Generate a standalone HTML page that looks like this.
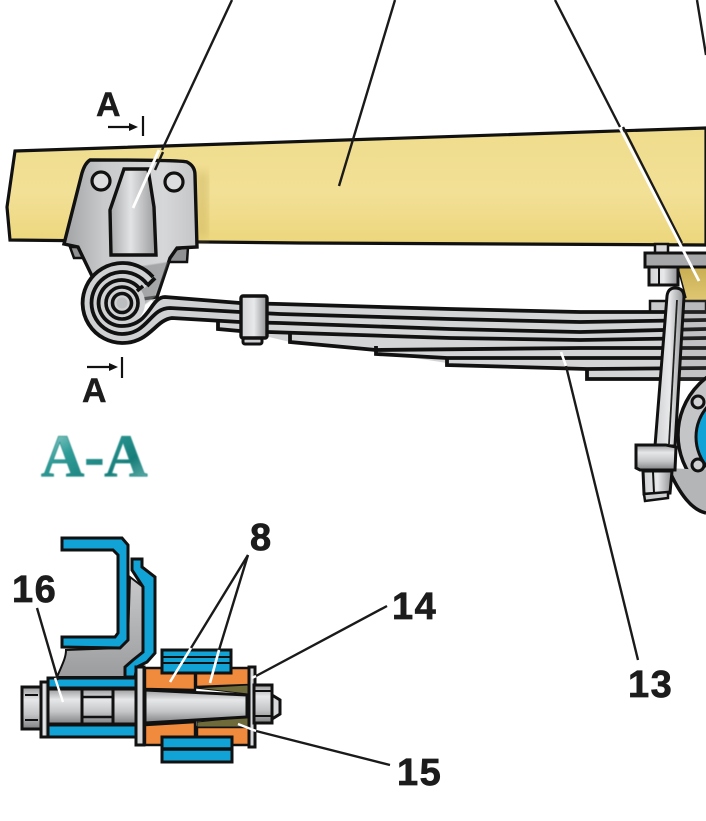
<!DOCTYPE html>
<html><head><meta charset="utf-8"><style>
html,body{margin:0;padding:0;background:#fff;width:706px;height:821px;overflow:hidden}
svg{display:block}
text{font-family:"Liberation Sans",sans-serif;font-weight:bold;fill:#1c1c1c}
.n{font-size:38px;letter-spacing:1.5px;stroke:#1c1c1c;stroke-width:.7px}
.a{font-size:34px;stroke:#1c1c1c;stroke-width:.4px}
</style></head><body>
<svg width="706" height="821" viewBox="0 0 706 821" xmlns="http://www.w3.org/2000/svg">
<defs>
<linearGradient id="y" x1="0" y1="0" x2="0" y2="1"><stop offset="0" stop-color="#efdc8c"/><stop offset=".55" stop-color="#f2e096"/><stop offset="1" stop-color="#ecd67c"/></linearGradient>
<linearGradient id="m" x1="0" y1="0" x2="1" y2="0"><stop offset="0" stop-color="#a8a9ab"/><stop offset=".45" stop-color="#e2e3e4"/><stop offset="1" stop-color="#9a9b9d"/></linearGradient>
<linearGradient id="w" x1="0" y1="0" x2="0" y2="1"><stop offset="0" stop-color="#c8c9cb"/><stop offset=".7" stop-color="#a9aaac"/><stop offset="1" stop-color="#9b9c9e"/></linearGradient>
<linearGradient id="b" x1="0" y1="0" x2="1" y2="0"><stop offset="0" stop-color="#a2a3a5"/><stop offset=".3" stop-color="#c9cacc"/><stop offset=".75" stop-color="#d6d7d9"/><stop offset="1" stop-color="#c4c5c7"/></linearGradient>
<linearGradient id="s" x1="0" y1="0" x2="0" y2="1"><stop offset="0" stop-color="#9a9b9d"/><stop offset=".3" stop-color="#e6e7e8"/><stop offset=".65" stop-color="#c4c5c7"/><stop offset="1" stop-color="#808183"/></linearGradient>
<linearGradient id="c" x1="0" y1="0" x2="1" y2="0"><stop offset="0" stop-color="#cfd0d2"/><stop offset=".5" stop-color="#e8e9ea"/><stop offset="1" stop-color="#8e8f91"/></linearGradient>
<linearGradient id="t" x1="0" y1="0" x2="1" y2="1"><stop offset="0" stop-color="#bfe3df"/><stop offset=".35" stop-color="#2f9c98"/><stop offset=".7" stop-color="#187d79"/><stop offset="1" stop-color="#7cc0bb"/></linearGradient>
<linearGradient id="g" x1="0" y1="0" x2="0" y2="1"><stop offset="0" stop-color="#c9ae52"/><stop offset="1" stop-color="#e0c875"/></linearGradient>
<filter id="blur"><feGaussianBlur stdDeviation="5"/></filter>
<filter id="soft"><feGaussianBlur stdDeviation=".5"/></filter>
</defs>
<rect width="706" height="821" fill="#fff"/>

<!-- frame -->
<path d="M15 151 L706 128 V245 L300 243 L10 240 L7 207Z" fill="url(#y)" stroke="#111" stroke-width="3.2"/>
<path d="M196 172 L208 172 V238 H196Z" fill="#cdb560" opacity=".6" filter="url(#blur)"/>

<!-- right-hand assembly behind -->
<rect x="655" y="244" width="13" height="10" fill="#d8d8da" stroke="#111" stroke-width="2.5"/>
<path d="M678 268 H706 V302 H686Z" fill="url(#g)"/>
<path d="M678 268 L686 298" stroke="#111" stroke-width="1.5" fill="none"/>
<rect x="645" y="253" width="70" height="14" fill="#a6a7a9" stroke="#111" stroke-width="3"/>
<rect x="649" y="267" width="29" height="18" fill="url(#c)" stroke="#111" stroke-width="3"/>
<path d="M659 268V285" stroke="#111" stroke-width="2"/>

<!-- leaves -->
<path d="M150 298 L240 303 L280 304 L580 312 L706 312 V378 H587 V369 L447 363 L376 352 L290 342 L240 330 L218 328 V321 L167 318Z" fill="#d3d4d6"/>
<rect x="650" y="301" width="56" height="11" fill="#c9cacc" stroke="#111" stroke-width="2.5"/>
<g fill="none" stroke="#111" stroke-width="3.8">
<path d="M240 303 L280 304 L450 309 L580 312 L706 312"/>
<path d="M240 312 L280 314 L450 319 L580 322 L706 320"/>
<path d="M240 322 L280 323 L450 329 L580 332 L706 329"/>
<path d="M268 332 L450 338 L580 340 L706 338"/>
<path d="M290 333 V342 L376 350 L580 348 L706 348"/>
<path d="M376 346 V354 L447 358 L580 358 L706 358"/>
<path d="M447 358 V365 L587 369 L706 368"/>
<path d="M587 368 V379 H706"/>
<path d="M218 321 V329 L240 331"/>
</g>
<rect x="680" y="300" width="26" height="80" fill="#777" opacity=".18"/>

<!-- hub -->
<circle cx="750" cy="435" r="72" fill="#c4c5c7" stroke="#111" stroke-width="3.5"/>
<path d="M668 468 C680 495 692 510 706 513 V470Z" fill="#b4b5b7"/>
<path d="M668 468 C680 495 692 510 706 513" fill="none" stroke="#111" stroke-width="3.5"/>
<circle cx="742" cy="437" r="46" fill="#12a3d6" stroke="#111" stroke-width="3"/>
<circle cx="698" cy="402" r="6" fill="#d0d1d3" stroke="#111" stroke-width="3"/>
<circle cx="698" cy="465" r="6" fill="#d0d1d3" stroke="#111" stroke-width="3"/>

<!-- U-bolt -->
<path d="M667 296 Q668 288 675 288 Q684 288 684 297 L675 446 H655Z" fill="url(#c)" stroke="#111" stroke-width="3"/>
<path d="M677 300 L669 444" stroke="#222" stroke-width="1.8"/>
<path d="M636 445 H666 L676 447 L675 470 L640 470 L636 468Z" fill="url(#s)" stroke="#111" stroke-width="3"/>
<path d="M643 471 H672 L670 493 L644 494Z" fill="url(#c)" stroke="#111" stroke-width="3"/>
<path d="M644 494 L668 492 V498 L645 501Z" fill="#cfd0d2" stroke="#111" stroke-width="2.5"/>
<path d="M653 472 L654 493" stroke="#111" stroke-width="2"/>

<!-- bracket -->
<path d="M70 247 L74 258 H90 L84 247Z M173 250 L188 247 L187 262 H168Z" fill="#8f9092" stroke="#111" stroke-width="2.5"/>
<path d="M90 160 Q180 160 187 162 Q195 166 195 175 L197 247 L177 248 L170 258 L157 297 L120 302 L92 276 L78 247 L64 244 L82 173 Q85 163 90 160Z" fill="url(#b)" stroke="#111" stroke-width="3.4"/>
<path d="M130 268 L168 262 L155 297 L135 312Z" fill="#87888a" opacity=".6" filter="url(#soft)"/>
<circle cx="101" cy="181" r="9" fill="#dcdddf" stroke="#111" stroke-width="3.2"/>
<circle cx="174" cy="182" r="9" fill="#dcdddf" stroke="#111" stroke-width="3.2"/>
<path d="M124 169 H148 L154 207 L156 255 H111 L110 210Z" fill="url(#m)" stroke="#111" stroke-width="3.4"/>

<!-- spring eye -->
<path d="M122 343 A40 40 0 1 1 153 277 L145 288 A23 23 0 0 0 122 326 C150 326 150 297 165 297 L240 303 V322 L172 318 C155 320 150 343 122 343Z" fill="#d0d1d3"/>
<circle cx="122" cy="303" r="23" fill="#d0d1d3"/>
<g fill="none" stroke="#111">
<path d="M153 277 A40 40 0 1 0 122 343 C150 343 155 320 172 318 L240 322" stroke-width="3.8"/>
<path d="M147 284 A31 31 0 1 0 122 334 C148 334 150 308 170 308 L240 312" stroke-width="3.8"/>
<path d="M139 288 A23 23 0 1 0 122 326 C150 326 150 297 165 297 L240 303" stroke-width="3.8"/>
<circle cx="122" cy="303" r="16" stroke-width="3.6"/>
<circle cx="122" cy="303" r="9.5" stroke-width="3.6"/>
<path d="M155 278 L147 286" stroke-width="4"/>
<path d="M143 286 L137 291" stroke-width="3.6"/>
</g>
<circle cx="122" cy="303" r="5.5" fill="#bdbec0"/>

<!-- clip -->
<rect x="243" y="338" width="19" height="6" rx="2" fill="#cfd0d2" stroke="#111" stroke-width="3"/>
<rect x="241" y="296" width="26" height="42" rx="2" fill="url(#c)" stroke="#111" stroke-width="3.4"/>

<!-- upper leaders -->
<g fill="none" stroke-linecap="butt">
<path d="M232 0 L162 150" stroke="#1a1a1a" stroke-width="2.4"/>
<path d="M163 152 L155 170" stroke="#1a1a1a" stroke-width="2.4"/>
<path d="M159 150 L133 208" stroke="#fff" stroke-width="2.8"/>
<path d="M395 0 L339 186" stroke="#1a1a1a" stroke-width="2.4"/>
<path d="M555 0 L620 127" stroke="#1a1a1a" stroke-width="2.4"/>
<path d="M623 127 L682 243" stroke="#1a1a1a" stroke-width="2.4"/>
<path d="M620 128 L699 281" stroke="#fff" stroke-width="2.8"/>
<path d="M697 0 L706 55" stroke="#1a1a1a" stroke-width="2.4"/>
<path d="M561 352 L566 366" stroke="#fff" stroke-width="2.6"/>
<path d="M566 366 L638 660" stroke="#1a1a1a" stroke-width="2.4"/>
</g>

<!-- A markers -->
<text class="a" x="96" y="116">A</text>
<path d="M108 127 H131" stroke="#111" stroke-width="2.2"/><path d="M129 123 L138 127 L129 131Z" fill="#111"/>
<path d="M143 116 V136" stroke="#111" stroke-width="2.2"/>
<text class="a" x="82" y="402">A</text>
<path d="M87 367 H111" stroke="#111" stroke-width="2.2"/><path d="M109 363 L118 367 L109 371Z" fill="#111"/>
<path d="M122 357 V378" stroke="#111" stroke-width="2.2"/>

<text x="41" y="476" font-size="60" filter="url(#soft)" style="font-family:'Liberation Serif',serif;fill:url(#t);stroke:#2a8f8b;stroke-width:.8px">A-A</text>

<!-- section: channel and bracket -->
<path d="M130 577 L143 587 V652 L125 667 V677 H57 C62 665 66 658 66 650 L120 648 L128 640Z" fill="url(#w)" stroke="#111" stroke-width="2"/>
<path d="M62 538 H122 L128 545 V640 L120 648 L62 647 V637 H115 L118 633 V555 L113 550 H62Z" fill="#12a3d6" stroke="#111" stroke-width="3"/>
<path d="M132 559 H142 V567 L155 577 V653 L147 662 L137 667 L135 677 H125 V667 L133 660 L143 652 V587 L132 570Z" fill="#12a3d6" stroke="#111" stroke-width="3"/>
<rect x="48" y="678" width="88" height="10" fill="#12a3d6" stroke="#111" stroke-width="3"/>
<rect x="48" y="725" width="88" height="12" fill="#12a3d6" stroke="#111" stroke-width="3"/>

<!-- section: bolt -->
<rect x="22" y="687" width="20" height="42" fill="url(#s)" stroke="#111" stroke-width="3"/>
<path d="M25 695 H38 M25 720 H38" stroke="#111" stroke-width="2"/>
<rect x="41" y="682" width="7" height="55" fill="url(#c)" stroke="#111" stroke-width="3"/>
<rect x="48" y="689" width="88" height="35" fill="url(#s)" stroke="#111" stroke-width="3"/>
<path d="M82 689 V724 M113 689 V724" stroke="#111" stroke-width="3"/>
<path d="M82 697 H113 M82 717 H113" stroke="#111" stroke-width="2.4"/>

<!-- section: bushings -->
<path d="M145 668 H195 V690 L145 689Z" fill="#f08a3c" stroke="#111" stroke-width="2.4"/>
<path d="M196 668 H250 V685 L196 687Z" fill="#f08a3c" stroke="#111" stroke-width="2.4"/>
<path d="M195 688 L248 685 V694Z" fill="#6e6a3a" stroke="#111" stroke-width="1"/>
<path d="M145 725 L195 722 V745 H145Z" fill="#f08a3c" stroke="#111" stroke-width="2.4"/>
<path d="M197 727 H250 V745 H197Z" fill="#f08a3c" stroke="#111" stroke-width="2.4"/>
<path d="M197 722 L248 717 V727 H197Z" fill="#6e6a3a" stroke="#111" stroke-width="1"/>
<path d="M145 690 L247 695 V717 L145 723Z" fill="url(#s)" stroke="#111" stroke-width="3"/>
<rect x="136" y="667" width="8" height="78" fill="#d8d9db" stroke="#111" stroke-width="3"/>
<rect x="249" y="667" width="6" height="80" fill="#d8d9db" stroke="#111" stroke-width="3"/>
<path d="M272 695 L280 700 V714 L272 719Z" fill="#d8d9db" stroke="#111" stroke-width="3"/>
<rect x="254" y="685" width="18" height="38" fill="url(#s)" stroke="#111" stroke-width="3"/>
<path d="M255 691 H271 M255 716 H271" stroke="#111" stroke-width="2"/>

<rect x="162" y="650" width="69" height="23" fill="#12a3d6" stroke="#111" stroke-width="3"/>
<path d="M163 657 H231 M163 663 H231" stroke="#111" stroke-width="2"/>
<rect x="162" y="737" width="70" height="25" fill="#12a3d6" stroke="#111" stroke-width="3"/>
<path d="M162 749 H232" stroke="#111" stroke-width="3.4"/>

<!-- section leaders -->
<g fill="none">
<path d="M37 608 L58 680" stroke="#1a1a1a" stroke-width="2.4"/>
<path d="M55 678 L63 702" stroke="#fff" stroke-width="2.4"/>
<path d="M248 555 L191 648" stroke="#1a1a1a" stroke-width="2.4"/>
<path d="M191 648 L170 682" stroke="#fff" stroke-width="2.6"/>
<path d="M248 555 L219 650" stroke="#1a1a1a" stroke-width="2.4"/>
<path d="M219 650 L210 683" stroke="#fff" stroke-width="2.6"/>
<path d="M387 606 L256 676" stroke="#1a1a1a" stroke-width="2.4"/>
<path d="M256 676 L252 678" stroke="#fff" stroke-width="2.4"/>
<path d="M390 765 L256 731" stroke="#1a1a1a" stroke-width="2.4"/>
<path d="M256 731 L238 724" stroke="#fff" stroke-width="2.4"/>
</g>

<text class="n" x="250" y="550">8</text>
<text class="n" x="12" y="602">16</text>
<text class="n" x="392" y="619">14</text>
<text class="n" x="397" y="785">15</text>
<text class="n" x="628" y="697">13</text>
</svg>
</body></html>
